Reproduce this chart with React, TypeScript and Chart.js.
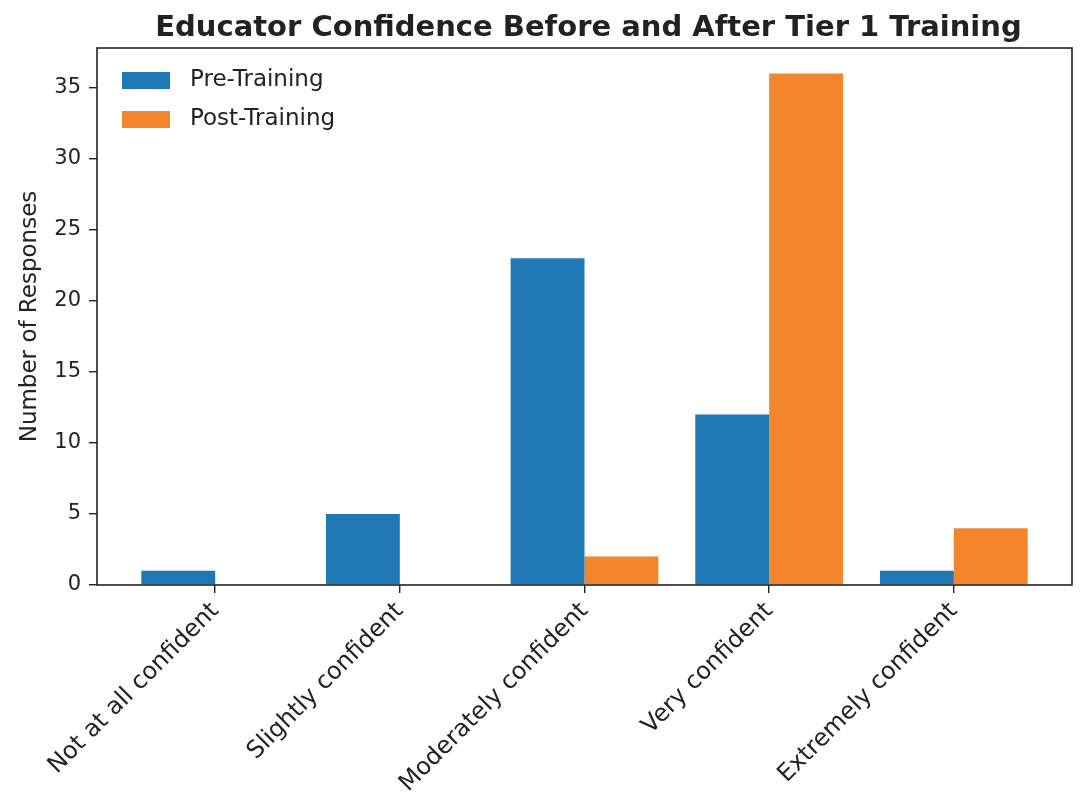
import React, { useEffect, useRef } from "react";
import { Chart, registerables } from "chart.js";

Chart.register(...registerables);

const categories = [
  "Not at all confident",
  "Slightly confident",
  "Moderately confident",
  "Very confident",
  "Extremely confident",
];
const preTraining = [1, 5, 23, 12, 1];
const postTraining = [0, 0, 2, 36, 4];
const seriesLabels = ["Pre-Training", "Post-Training"];
const yTicks = [0, 5, 10, 15, 20, 25, 30, 35];
const titleText = "Educator Confidence Before and After Tier 1 Training";
const yTitle = "Number of Responses";

const BLUE = "#1f77b4";
const ORANGE = "#f3862d";
const INK = "#222222";
const FONT = "'DejaVu Sans', sans-serif";

const framePlugin = {
  id: "frame",
  afterDatasetsDraw(chart: any) {
    const { ctx, chartArea } = chart;
    ctx.save();
    ctx.strokeStyle = INK;
    ctx.lineWidth = 1.6;
    ctx.strokeRect(chartArea.left, chartArea.top, chartArea.right - chartArea.left, chartArea.bottom - chartArea.top);
    ctx.restore();
  },
};

const titlePlugin = {
  id: "areaTitle",
  afterDraw(chart: any) {
    const { ctx, chartArea } = chart;
    ctx.save();
    ctx.font = `bold 29px ${FONT}`;
    ctx.fillStyle = INK;
    ctx.textAlign = "center";
    ctx.textBaseline = "middle";
    ctx.fillText(titleText, (chartArea.left + chartArea.right) / 2 + 4, 28);
    ctx.restore();
  },
};

const legendPlugin = {
  id: "innerLegend",
  afterDraw(chart: any) {
    const { ctx, chartArea } = chart;
    ctx.save();
    ctx.font = `23px ${FONT}`;
    ctx.textBaseline = "middle";
    chart.data.datasets.forEach((ds: any, i: number) => {
      const cy = chartArea.top + 32 + i * 39;
      ctx.fillStyle = ds.backgroundColor;
      ctx.fillRect(chartArea.left + 25, cy - 8, 48, 17);
      ctx.fillStyle = INK;
      ctx.fillText(ds.label, chartArea.left + 93, cy);
    });
    ctx.restore();
  },
};

export default function App() {
  const ref = useRef<HTMLCanvasElement>(null);
  useEffect(() => {
    document.body.style.margin = "0";
    const chart = new Chart(ref.current!, {
      type: "bar",
      data: {
        datasets: [
          {
            label: seriesLabels[0],
            data: preTraining.map((v, i) => ({ x: i, y: v })),
            backgroundColor: BLUE,
            categoryPercentage: 0.8,
            barPercentage: 1.0,
          },
          {
            label: seriesLabels[1],
            data: postTraining.map((v, i) => ({ x: i, y: v })),
            backgroundColor: ORANGE,
            categoryPercentage: 0.8,
            barPercentage: 1.0,
          },
        ],
      },
      options: {
        animation: false,
        responsive: false,
        maintainAspectRatio: false,
        layout: { padding: { left: 0, right: 11, top: 48, bottom: 0 } },
        plugins: {
          legend: { display: false },
          tooltip: { enabled: false },
          title: { display: false },
        },
        scales: {
          x: {
            type: "linear",
            offset: false,
            min: -0.64,
            max: 4.64,
            afterBuildTicks: (scale: any) => {
              scale.ticks = categories.map((_, i) => ({ value: i }));
            },
            afterFit: (scale: any) => {
              scale.height = 212;
            },
            grid: { display: true, offset: false, drawOnChartArea: false, drawTicks: true, tickLength: 8, color: INK, lineWidth: 1.4 },
            border: { display: false },
            ticks: {
              autoSkip: false,
              minRotation: 45,
              maxRotation: 45,
              padding: 4,
              color: INK,
              font: { family: FONT, size: 24 },
              callback: (v: any) => categories[Math.round(Number(v))] ?? "",
            },
          },
          y: {
            type: "linear",
            min: 0,
            max: 37.8,
            afterBuildTicks: (scale: any) => {
              scale.ticks = yTicks.map((v) => ({ value: v }));
            },
            afterFit: (scale: any) => {
              scale.width = 97;
            },
            grid: { display: true, drawOnChartArea: false, drawTicks: true, tickLength: 8, color: INK, lineWidth: 1.4 },
            border: { display: false },
            ticks: {
              padding: 8,
              color: INK,
              font: { family: FONT, size: 21 },
            },
            title: {
              display: true,
              text: yTitle,
              color: INK,
              font: { family: FONT, size: 23 },
              padding: { top: 16, bottom: 0 },
            },
          },
        },
      },
      plugins: [framePlugin, legendPlugin, titlePlugin],
    } as any);
    return () => chart.destroy();
  }, []);
  return (
    <div style={{ width: 1083, height: 797, background: "#fff" }}>
      <canvas ref={ref} width={1083} height={797} style={{ display: "block" }} />
    </div>
  );
}
